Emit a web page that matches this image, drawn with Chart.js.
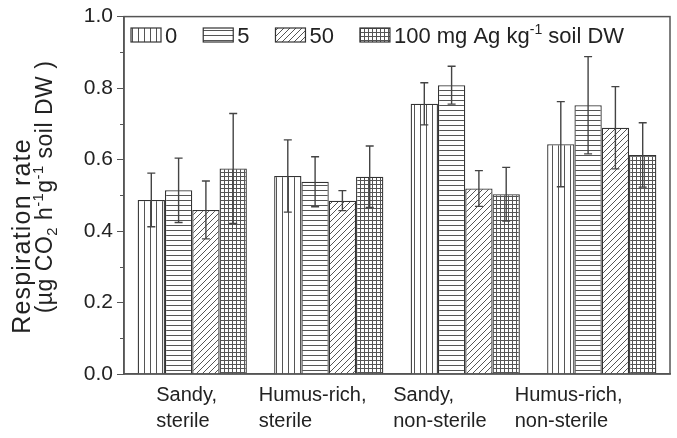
<!DOCTYPE html>
<html>
<head>
<meta charset="utf-8">
<script src="https://cdn.jsdelivr.net/npm/chart.js@4/dist/chart.umd.min.js"></script>
<style>
  body { margin: 0; background: #fff; }
  #wrap { width: 677px; height: 438px; }
</style>
</head>
<body>
<div id="wrap"><canvas id="chart" width="677" height="438"></canvas></div>
<script>
// soil types (two-line labels)
const categories = [['Sandy,', 'sterile'], ['Humus-rich,', 'sterile'], ['Sandy,', 'non-sterile'], ['Humus-rich,', 'non-sterile']];
const doses = ['0', '5', '50', '100'];

// respiration rate, ug CO2 h-1 g-1 soil DW
const mean0 = [0.487, 0.554, 0.756, 0.643];
const mean5 = [0.514, 0.538, 0.808, 0.752];
const mean50 = [0.459, 0.485, 0.519, 0.689];
const mean100 = [0.575, 0.552, 0.503, 0.613];

const err0 = [0.075, 0.101, 0.059, 0.119];
const err5 = [0.090, 0.070, 0.053, 0.136];
const err50 = [0.081, 0.028, 0.050, 0.115];
const err100 = [0.154, 0.086, 0.075, 0.090];

const yMin = 0, yMax = 1.0, yStep = 0.1;

const FONT = "'Liberation Sans', Arial, Helvetica, sans-serif";
const INK = '#222';
const HATCH = '#555';

function makePattern(kind) {
    const size = { v: 6, h: 5, d: 6, g: 4 }[kind];
    const c = document.createElement('canvas');
    c.width = size; c.height = size;
    const g = c.getContext('2d');
    g.fillStyle = '#fff';
    g.fillRect(0, 0, size, size);
    g.strokeStyle = HATCH;
    g.lineWidth = 1;
    g.beginPath();
    if (kind === 'v' || kind === 'g') { g.moveTo(0.5, 0); g.lineTo(0.5, size); }
    if (kind === 'h' || kind === 'g') { g.moveTo(0, 0.5); g.lineTo(size, 0.5); }
    if (kind === 'd') {
        g.moveTo(-1, size + 1); g.lineTo(size + 1, -1);
        g.moveTo(-1, 1); g.lineTo(1, -1);
        g.moveTo(size - 1, size + 1); g.lineTo(size + 1, size - 1);
    }
    g.stroke();
    return g.createPattern(c, 'repeat');
}

const ctx0 = document.getElementById('chart').getContext('2d');
const fills = [makePattern('v'), makePattern('h'), makePattern('d'), makePattern('g')];

// legend text, last one carries the unit with a superscript
const legendText = [
    [{ t: '0' }],
    [{ t: '5' }],
    [{ t: '50' }],
    [{ t: '100 mg Ag kg' }, { t: '-1', sup: true }, { t: ' soil DW' }]
];
const yTitle1 = [{ t: 'Respiration rate' }];
const yTitle2 = [{ t: '(\u00b5g CO' }, { t: '2', sub: true }, { t: ' h' }, { t: '-1', sup: true },
                 { t: 'g' }, { t: '-1', sup: true }, { t: ' soil DW )' }];

// draws (or only measures) segments with optional per-char spacing
function drawRich(ctx, segs, x, y, size, spacing, measureOnly) {
    const sp = spacing || 0;
    const x0 = x;
    ctx.textAlign = 'left';
    ctx.textBaseline = 'alphabetic';
    segs.forEach(s => {
        const fs = s.sup || s.sub ? size * 0.64 : size;
        ctx.font = fs + 'px ' + FONT;
        let dy = 0;
        if (s.sup) dy = -size * 0.4;
        if (s.sub) dy = size * 0.22;
        for (const ch of s.t) {
            if (!measureOnly) ctx.fillText(ch, x, y + dy);
            x += ctx.measureText(ch).width + sp;
        }
    });
    return measureOnly ? x - x0 : x;
}

const labelOffset = [-36, -70, -72, -87];

const extras = {
    id: 'extras',
    afterDatasetsDraw(chart) {
        const ctx = chart.ctx;
        const y = chart.scales.y;
        const errs = [err0, err5, err50, err100];
        ctx.save();
        ctx.strokeStyle = '#444';
        ctx.lineWidth = 1.4;
        chart.data.datasets.forEach((ds, di) => {
            const meta = chart.getDatasetMeta(di);
            meta.data.forEach((bar, i) => {
                const v = ds.data[i], e = errs[di][i];
                const top = y.getPixelForValue(v + e);
                const bot = y.getPixelForValue(v - e);
                ctx.beginPath();
                ctx.moveTo(bar.x, top); ctx.lineTo(bar.x, bot);
                ctx.moveTo(bar.x - 4, top); ctx.lineTo(bar.x + 4, top);
                ctx.moveTo(bar.x - 4, bot); ctx.lineTo(bar.x + 4, bot);
                ctx.stroke();
            });
        });
        ctx.restore();
    },
    afterDraw(chart) {
        const ctx = chart.ctx;
        const a = chart.chartArea;
        const x = chart.scales.x, y = chart.scales.y;
        ctx.save();
        // frame
        ctx.strokeStyle = '#555';
        ctx.lineWidth = 1.5;
        ctx.strokeRect(a.left, a.top, a.right - a.left, a.bottom - a.top);
        // minor ticks
        ctx.lineWidth = 1;
        ctx.beginPath();
        for (let v = yMin + yStep; v < yMax; v += 2 * yStep) {
            const py = Math.round(y.getPixelForValue(v)) + 0.5;
            ctx.moveTo(a.left - 4, py); ctx.lineTo(a.left, py);
        }
        ctx.stroke();
        // legend
        let lx = a.left + 7;
        legendText.forEach((segs, i) => {
            ctx.fillStyle = fills[i];
            ctx.fillRect(lx, 28, 30, 14);
            ctx.strokeStyle = '#333';
            ctx.lineWidth = 1.2;
            ctx.strokeRect(lx, 28, 30, 14);
            ctx.fillStyle = INK;
            lx = drawRich(ctx, segs, lx + 34, 43, 22) + 26;
        });
        // category labels, left aligned blocks
        ctx.fillStyle = INK;
        ctx.font = '20px ' + FONT;
        ctx.textAlign = 'left';
        ctx.textBaseline = 'alphabetic';
        categories.forEach((lines, i) => {
            const cx = x.getPixelForValue(i) + labelOffset[i];
            lines.forEach((ln, k) => ctx.fillText(ln, cx, 401 + k * 26));
        });
        // y title, two rotated lines
        ctx.save();
        ctx.translate(30, 236);
        ctx.rotate(-Math.PI / 2);
        let w = drawRich(ctx, yTitle1, 0, 0, 25, 1.2, true);
        drawRich(ctx, yTitle1, -w / 2, 0, 25, 1.2);
        ctx.restore();
        ctx.save();
        ctx.translate(52, 187);
        ctx.rotate(-Math.PI / 2);
        w = drawRich(ctx, yTitle2, 0, 0, 23, 0.5, true);
        drawRich(ctx, yTitle2, -w / 2, 0, 23, 0.5);
        ctx.restore();
        ctx.restore();
    }
};

const series = [mean0, mean5, mean50, mean100];

new Chart(ctx0, {
    type: 'bar',
    data: {
        labels: categories,
        datasets: series.map((vals, i) => ({
            label: doses[i],
            data: vals,
            backgroundColor: fills[i],
            borderColor: '#333',
            borderWidth: 1.3,
            categoryPercentage: 0.8,
            barPercentage: 1.0
        }))
    },
    options: {
        responsive: false,
        animation: false,
        layout: { padding: { top: 15, right: 7, left: 0, bottom: 0 } },
        plugins: {
            legend: { display: false },
            tooltip: { enabled: false }
        },
        scales: {
            x: {
                grid: { display: false },
                border: { color: '#555', width: 1.5 },
                ticks: { display: false },
                afterFit: s => { s.height = 64; }
            },
            y: {
                min: yMin,
                max: yMax,
                afterFit: s => { s.width = 124; },
                border: { color: '#555', width: 1.5 },
                grid: {
                    drawOnChartArea: false,
                    tickLength: 7,
                    tickColor: c => (Math.round(c.tick.value * 10) % 2 === 0 ? '#555' : 'rgba(0,0,0,0)')
                },
                ticks: {
                    stepSize: yStep,
                    padding: 4,
                    color: INK,
                    font: { family: FONT, size: 21 },
                    callback: v => (Math.round(v * 10) % 2 === 0 ? v.toFixed(1) : '')
                }
            }
        }
    },
    plugins: [extras]
});
</script>
</body>
</html>
